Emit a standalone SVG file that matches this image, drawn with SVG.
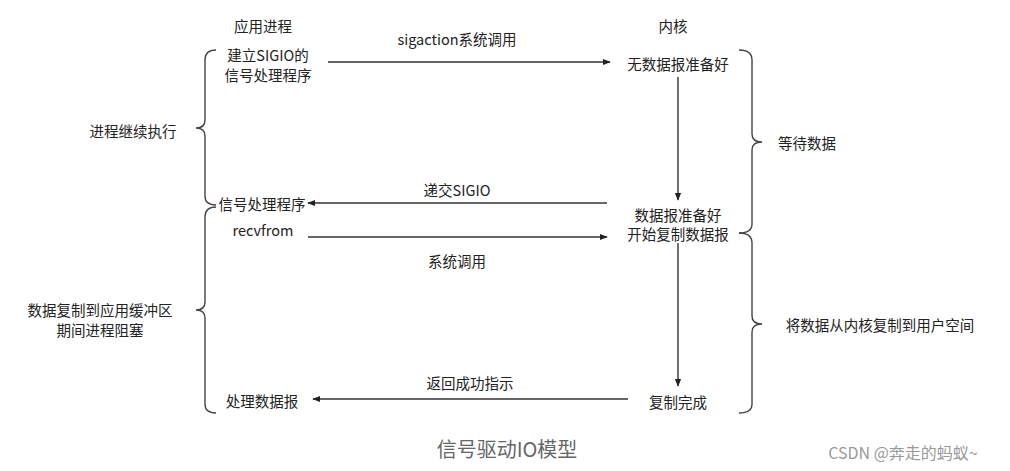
<svg xmlns="http://www.w3.org/2000/svg" width="1010" height="471" viewBox="0 0 1010 471">
<defs>
<style>
.t{font-family:"Noto Sans CJK SC","Liberation Sans",sans-serif;font-size:14.5px;fill:#222;text-anchor:middle;dominant-baseline:central}
.ln{stroke:#333;stroke-width:1.4;fill:none}
.br{stroke:#444;stroke-width:1.4;fill:none}
</style>
<marker id="ah" viewBox="0 0 10 10" refX="9" refY="5" markerWidth="8" markerHeight="8" markerUnits="userSpaceOnUse" orient="auto"><path d="M0,1 L10,5 L0,9 Z" fill="#222"/></marker>
</defs>
<rect width="1010" height="471" fill="#fff"/>
<g id="headers">
<text class="t" x="263" y="25">应用进程</text>
<text class="t" x="673" y="25">内核</text>
</g>
<g id="braces">
<path class="br" d="M216,50 Q205,50 205,60 L205,120 Q205,128 196,128 Q205,128 205,136 L205,196 Q205,205 216,205"/>
<path class="br" d="M216,207 Q205,207 205,217 L205,302 Q205,310 196,310 Q205,310 205,318 L205,404 Q205,413 216,413"/>
<path class="br" d="M739,50 Q752,50 752,60 L752,134 Q752,142 762,142 Q752,142 752,150 L752,224 Q752,233 739,233"/>
<path class="br" d="M739,233 Q752,233 752,243 L752,316 Q752,324 762,324 Q752,324 752,332 L752,404 Q752,413 739,413"/>
</g>
<g id="n-setup"><text class="t" x="268" y="54">建立SIGIO的</text><text class="t" x="268" y="74">信号处理程序</text></g>
<g id="n-continue"><text class="t" x="133" y="130">进程继续执行</text></g>
<g id="n-nodata"><text class="t" x="678" y="63">无数据报准备好</text></g>
<g id="n-ready"><text class="t" x="678" y="214">数据报准备好</text><text class="t" x="678" y="233">开始复制数据报</text></g>
<g id="n-handler"><text class="t" x="262" y="203">信号处理程序</text></g>
<g id="n-recvfrom"><text class="t" x="263" y="229">recvfrom</text></g>
<g id="n-wait"><text class="t" x="807" y="142">等待数据</text></g>
<g id="n-copy"><text class="t" x="880" y="324">将数据从内核复制到用户空间</text></g>
<g id="n-blocked"><text class="t" x="100" y="309">数据复制到应用缓冲区</text><text class="t" x="100" y="329">期间进程阻塞</text></g>
<g id="n-done"><text class="t" x="678" y="401">复制完成</text></g>
<g id="n-process"><text class="t" x="262" y="400">处理数据报</text></g>
<g id="connectors">
<line class="ln" x1="328" y1="62" x2="610" y2="62" marker-end="url(#ah)"/>
<text class="t" x="457" y="38">sigaction系统调用</text>
<line class="ln" x1="678" y1="77" x2="678" y2="200" marker-end="url(#ah)"/>
<line class="ln" x1="607" y1="203" x2="308" y2="203" marker-end="url(#ah)"/>
<text class="t" x="457" y="189">递交SIGIO</text>
<line class="ln" x1="308" y1="237" x2="607" y2="237" marker-end="url(#ah)"/>
<text class="t" x="457" y="260">系统调用</text>
<line class="ln" x1="678" y1="243" x2="678" y2="386" marker-end="url(#ah)"/>
<line class="ln" x1="628" y1="399" x2="313" y2="399" marker-end="url(#ah)"/>
<text class="t" x="470" y="382">返回成功指示</text>
</g>
<g id="caption">
<text x="507" y="448" style="font-family:'Noto Sans CJK SC',serif;font-size:20px;fill:#666;text-anchor:middle;dominant-baseline:central">信号驱动IO模型</text>
<text x="903" y="452" style="font-family:'Noto Sans CJK SC','Liberation Sans',sans-serif;font-size:16px;fill:#999;text-anchor:middle;dominant-baseline:central">CSDN @奔走的蚂蚁~</text>
</g>
</svg>
